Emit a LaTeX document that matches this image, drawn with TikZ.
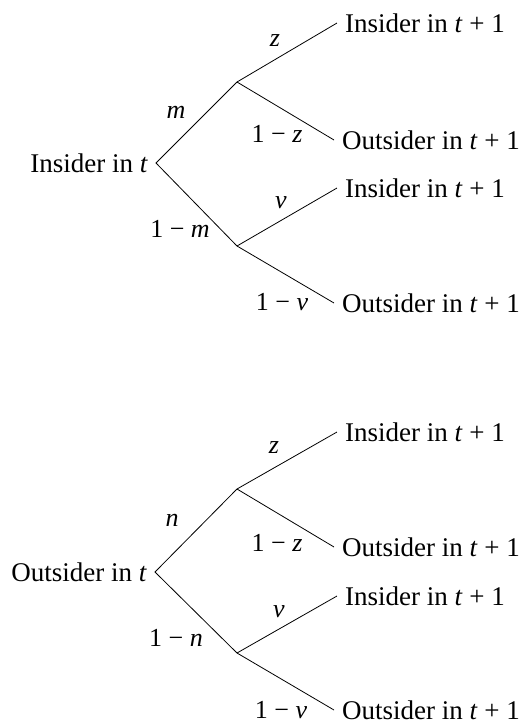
\documentclass[tikz,border=0pt]{standalone}
\usepackage{fontspec}
\setmainfont{Liberation Serif}
\newcommand{\tplusone}{\textit{t} + 1}
\tikzset{
state/.style={inner sep=8pt, font=\fontsize{27}{31}\selectfont},
prob/.style={inner sep=0pt, font=\fontsize{26}{30}\selectfont},
branch/.style={line width=0.8pt},
}

\begin{document}
\begin{tikzpicture}[x=1pt,y=-1pt]
\useasboundingbox (0,0) rectangle (527,724);

% insider in t
\coordinate (I1) at (237,82);
\coordinate (I2) at (237,246);
\node[state, anchor=east] (I) at (156,163) {Insider in \textit{t}};
\node[state, anchor=west] (I11) at (337,23) {Insider in \tplusone};
\node[state, anchor=west] (I12) at (334,140) {Outsider in \tplusone};
\node[state, anchor=west] (I21) at (337,188) {Insider in \tplusone};
\node[state, anchor=west] (I22) at (334,303) {Outsider in \tplusone};

\node[prob] (pm) at (176,112) {\textit{m}};
\node[prob] (p1m) at (180,229) {1 − \textit{m}};
\node[prob] (pIz) at (275,41) {\textit{z}};
\node[prob] (pI1z) at (277,134) {1 − \textit{z}};
\node[prob] (pIv) at (281,203) {\textit{v}};
\node[prob] (pI1v) at (282,302) {1 − \textit{v}};

\draw[branch] (I11.west) -- (I1) -- (I.east) -- (I2) -- (I22.west);
\draw[branch] (I1) -- (I12.west);
\draw[branch] (I2) -- (I21.west);

% outsider in t
\coordinate (O1) at (237,489);
\coordinate (O2) at (237,653);
\node[state, anchor=east] (O) at (155,572) {Outsider in \textit{t}};
\node[state, anchor=west] (O11) at (337,432) {Insider in \tplusone};
\node[state, anchor=west] (O12) at (334,547) {Outsider in \tplusone};
\node[state, anchor=west] (O21) at (337,596) {Insider in \tplusone};
\node[state, anchor=west] (O22) at (334,710) {Outsider in \tplusone};

\node[prob] (pn) at (172,520) {\textit{n}};
\node[prob] (p1n) at (176,638) {1 − \textit{n}};
\node[prob] (pOz) at (274,448) {\textit{z}};
\node[prob] (pO1z) at (277,543) {1 − \textit{z}};
\node[prob] (pOv) at (279,612) {\textit{v}};
\node[prob] (pO1v) at (281,710) {1 − \textit{v}};

\draw[branch] (O11.west) -- (O1) -- (O.east) -- (O2) -- (O22.west);
\draw[branch] (O1) -- (O12.west);
\draw[branch] (O2) -- (O21.west);
\end{tikzpicture}
\end{document}
